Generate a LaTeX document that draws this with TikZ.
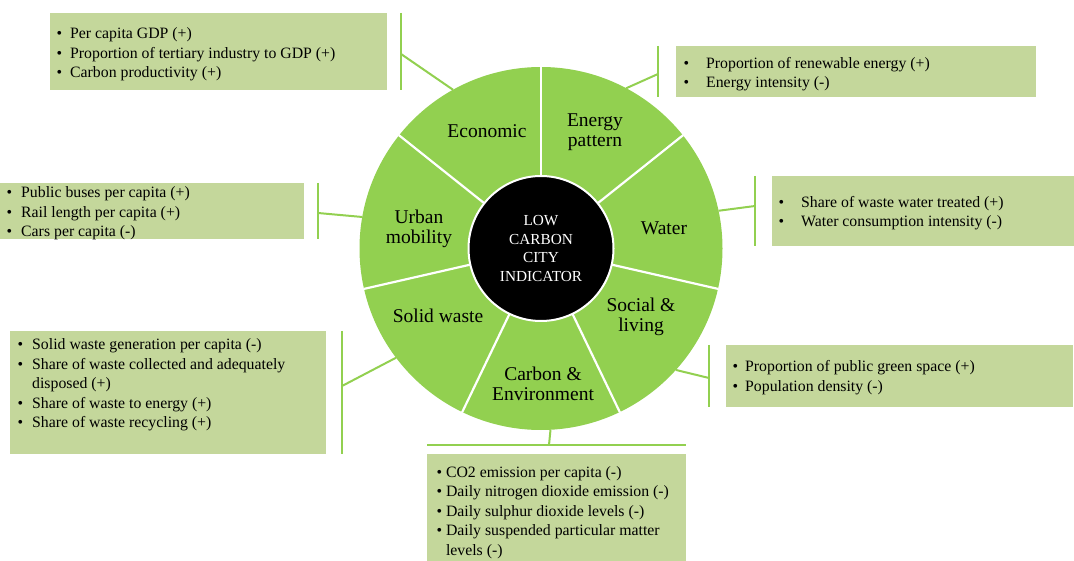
\documentclass[tikz,border=0pt]{standalone}
\usepackage{fontspec}
\setmainfont{Liberation Serif}
\usetikzlibrary{calc}
\definecolor{wheelgreen}{HTML}{92D050}
\definecolor{boxgreen}{HTML}{C4D79B}
% bullet set in a box of the given width, so the item text starts after it
\newcommand{\bul}[1]{\makebox[#1][l]{•}}
\begin{document}
\begin{tikzpicture}[x=1pt,y=-1pt,
  panel/.style={fill=boxgreen, draw=none, inner sep=0pt, outer sep=0pt, anchor=north west},
  itemlist/.style={anchor=west, inner sep=0pt, align=left, font=\fontsize{15.8}{19.5}\selectfont},
  bracket/.style={draw=wheelgreen, line width=2pt},
  sector/.style={font=\fontsize{19.5}{20}\selectfont, align=center, inner sep=0pt},
  divider/.style={draw=white, line width=2.2pt}]
\useasboundingbox (0,0) rectangle (1074,561);

% ---- wheel ----
\node[circle, fill=wheelgreen, draw=none, inner sep=0pt, outer sep=0pt, minimum size=363pt] (wheel) at (541,248.5) {};
\foreach \a in {90, 38.571, -12.857, -64.286, -115.714, -167.143, 141.429}
  \draw[divider] ($(wheel.center)+(-\a:70)$) -- ($(wheel.center)+(-\a:182)$);
\node[circle, fill=black, draw=white, line width=2pt, inner sep=0pt, minimum size=145pt,
      text=white, align=center, font=\fontsize{15.3}{18.7}\selectfont] (core) at (wheel.center)
      {LOW\\CARBON\\CITY\\INDICATOR};

\node[sector] (secEco)   at (487,131)   {Economic};
\node[sector] (secEnergy) at (595,132.5) {Energy\\pattern};
\node[sector] (secWater) at (664,228)   {Water};
\node[sector] (secSocial) at (641,317)  {Social \&\\living};
\node[sector] (secCarbon) at (543,384)  {Carbon \&\\Environment};
\node[sector] (secSolid) at (438,316)   {Solid waste};
\node[sector] (secUrban) at (419,229)   {Urban\\mobility};

% ---- indicator panels ----
\node[panel, minimum width=337pt, minimum height=77pt] (ecoBox) at (50,13) {};
\node[itemlist] (ecoText) at (56.3,54.5)
  {\bul{13.7pt}Per capita GDP (+)\\\bul{13.7pt}Proportion of tertiary industry to GDP (+)\\\bul{13.7pt}Carbon productivity (+)};

\node[panel, minimum width=360pt, minimum height=51pt] (energyBox) at (676,46) {};
\node[itemlist] (energyText) at (683.3,74.3)
  {\bul{22.7pt}Proportion of renewable energy (+)\\\bul{22.7pt}Energy intensity (-)};

\node[panel, minimum width=302pt, minimum height=70pt] (waterBox) at (772,176) {};
\node[itemlist] (waterText) at (778.3,213)
  {\bul{22.7pt}Share of waste water treated (+)\\\bul{22.7pt}Water consumption intensity (-)};

\node[panel, minimum width=304pt, minimum height=56pt] (urbanBox) at (0,183) {};
\node[itemlist] (urbanText) at (6.3,213.5)
  {\bul{14.7pt}Public buses per capita (+)\\\bul{14.7pt}Rail length per capita (+)\\\bul{14.7pt}Cars per capita (-)};

\node[panel, minimum width=316pt, minimum height=123pt] (solidBox) at (10,331) {};
\node[itemlist] (solidText) at (17.3,385)
  {\bul{14.7pt}Solid waste generation per capita (-)\\\bul{14.7pt}Share of waste collected and adequately\\\hspace*{14.7pt}disposed (+)\\\bul{14.7pt}Share of waste to energy (+)\\\bul{14.7pt}Share of waste recycling (+)};

\node[panel, minimum width=347pt, minimum height=62pt] (socialBox) at (726,345) {};
\node[itemlist] (socialText) at (732.3,377.5)
  {\bul{12.7pt}Proportion of public green space (+)\\\bul{12.7pt}Population density (-)};

\node[panel, minimum width=259pt, minimum height=110pt] (carbonBox) at (427,454) {};
\node[itemlist] (carbonText) at (436.3,512.5)
  {\bul{9.5pt}CO2 emission per capita (-)\\\bul{9.5pt}Daily nitrogen dioxide emission (-)\\\bul{9.5pt}Daily sulphur dioxide levels (-)\\\bul{9.5pt}Daily suspended particular matter\\\hspace*{9.5pt}levels (-)};

% ---- brackets joining the panels to the wheel ----
\coordinate (ecoTop) at (401,13);   \coordinate (ecoBot) at (401,90);   \coordinate (ecoJoin) at (401,54);
\draw[bracket] (ecoTop) -- (ecoBot);
\draw[bracket] (ecoJoin) -- (wheel.119.3);

\coordinate (energyTop) at (658,46); \coordinate (energyBot) at (658,97); \coordinate (energyJoin) at (658,74);
\draw[bracket] (energyTop) -- (energyBot);
\draw[bracket] (energyJoin) -- (wheel.62.5);

\coordinate (waterTop) at (755,176); \coordinate (waterBot) at (755,246); \coordinate (waterJoin) at (755,206);
\draw[bracket] (waterTop) -- (waterBot);
\draw[bracket] (waterJoin) -- (wheel.12.6);

\coordinate (urbanTop) at (318,183); \coordinate (urbanBot) at (318,239); \coordinate (urbanJoin) at (318,213);
\draw[bracket] (urbanTop) -- (urbanBot);
\draw[bracket] (urbanJoin) -- (wheel.170.5);

\coordinate (solidTop) at (342,331); \coordinate (solidBot) at (342,454); \coordinate (solidJoin) at (342,386);
\draw[bracket] (solidTop) -- (solidBot);
\draw[bracket] (solidJoin) -- (wheel.-143.5);

\coordinate (socialTop) at (709,345); \coordinate (socialBot) at (709,407); \coordinate (socialJoin) at (709,378);
\draw[bracket] (socialTop) -- (socialBot);
\draw[bracket] (socialJoin) -- (wheel.-42);

\coordinate (carbonLeft) at (427,445); \coordinate (carbonRight) at (686,445); \coordinate (carbonJoin) at (549,445);
\draw[bracket] (carbonLeft) -- (carbonRight);
\draw[bracket] (carbonJoin) -- (wheel.-87.5);
\end{tikzpicture}
\end{document}
